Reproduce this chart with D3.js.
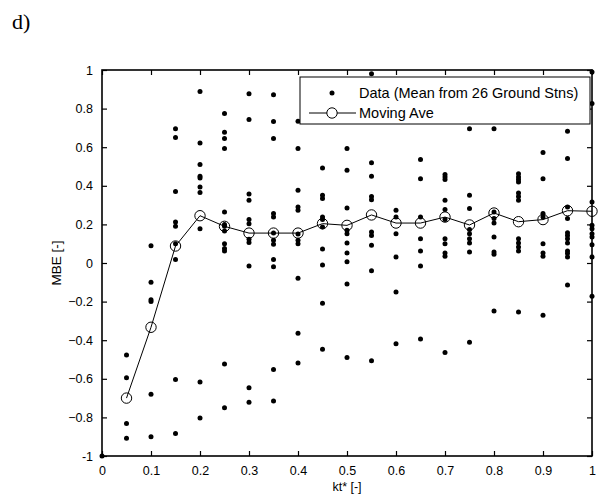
<!DOCTYPE html>
<html>
<head>
<meta charset="utf-8">
<script src="https://cdn.jsdelivr.net/npm/d3@7"></script>
<style>
  body { margin: 0; background: #fff; }
  svg { display: block; font-family: "Liberation Sans", Arial, sans-serif; }
</style>
</head>
<body>
<div id="chart"></div>
<script>
// kt* bins and the MBE of each ground-station point in that bin
const ktBins = [0, 0.05, 0.1, 0.15, 0.2, 0.25, 0.3, 0.35, 0.4, 0.45, 0.5,
  0.55, 0.6, 0.65, 0.7, 0.75, 0.8, 0.85, 0.9, 0.95, 1.0];

const binMBE = [
  [-1.0],
  [-0.477, -0.594, -0.832, -0.908],
  [0.09, -0.10, -0.19, -0.20, -0.68, -0.90],
  [0.696, 0.65, 0.37, 0.212, 0.19, 0.10, 0.018, -0.604, -0.884],
  [0.889, 0.622, 0.51, 0.45, 0.44, 0.394, 0.365, 0.178, -0.617, -0.803],
  [0.774, 0.677, 0.645, 0.593, 0.264, 0.20, 0.19, 0.166, 0.10, 0.075, 0.062, -0.523, -0.75],
  [0.877, 0.743, 0.357, 0.325, 0.225, 0.204, 0.123, 0.106, -0.016, -0.646, -0.722],
  [0.872, 0.733, 0.645, 0.256, 0.238, 0.155, 0.118, 0.097, 0.018, -0.02, -0.552, -0.715],
  [0.734, 0.593, 0.377, 0.29, 0.273, 0.15, 0.118, 0.10, -0.079, -0.364, -0.518],
  [0.492, 0.351, 0.334, 0.238, 0.225, 0.187, 0.072, -0.01, -0.209, -0.447],
  [0.593, 0.48, 0.285, 0.17, 0.152, 0.104, 0.052, 0.007, -0.109, -0.489],
  [0.981, 0.52, 0.45, 0.345, 0.328, 0.161, 0.143, 0.092, -0.04, -0.506],
  [0.273, 0.238, 0.152, 0.031, -0.15, -0.418],
  [0.536, 0.437, 0.238, 0.126, 0.062, -0.016, -0.394],
  [0.458, 0.446, 0.432, 0.325, 0.277, 0.225, 0.126, 0.10, 0.052, 0.035, -0.464],
  [0.696, 0.351, 0.282, 0.173, 0.152, 0.126, 0.104, 0.057, -0.411],
  [0.696, 0.264, 0.23, 0.207, 0.135, 0.057, 0.045, -0.249],
  [0.463, 0.446, 0.432, 0.42, 0.363, 0.345, 0.325, 0.126, 0.104, 0.083, 0.062, -0.254],
  [0.572, 0.437, 0.256, 0.238, 0.10, 0.052, 0.035, -0.271],
  [0.682, 0.541, 0.29, 0.23, 0.157, 0.143, 0.126, 0.104, 0.062, 0.049, 0.031, -0.114],
  [0.99, 0.826, 0.316, 0.195, 0.178, 0.152, 0.135, 0.095, 0.031, -0.172]
];

// moving average, starts at the 0.05 bin
const aveKt = ktBins.slice(1);
const aveMBE = [-0.70, -0.333, 0.088, 0.245, 0.19, 0.155, 0.155, 0.155, 0.204, 0.195,
  0.249, 0.207, 0.207, 0.238, 0.197, 0.259, 0.214, 0.225, 0.271, 0.268];

const xTicks = [0, 0.1, 0.2, 0.3, 0.4, 0.5, 0.6, 0.7, 0.8, 0.9, 1];
const yTicks = [-1, -0.8, -0.6, -0.4, -0.2, 0, 0.2, 0.4, 0.6, 0.8, 1];
const legendLabels = ['Data (Mean from 26 Ground Stns)', 'Moving Ave'];

const width = 601, height = 496;
const margin = { top: 70, right: 9, bottom: 40, left: 102 };
const innerW = width - margin.left - margin.right;
const innerH = height - margin.top - margin.bottom;

const svg = d3.select('#chart').append('svg')
  .attr('width', width)
  .attr('height', height);

const x = d3.scaleLinear().domain([0, 1]).range([margin.left, margin.left + innerW]);
const y = d3.scaleLinear().domain([-1, 1]).range([margin.top + innerH, margin.top]);

const fmt = d => d === 0 ? '0' : (Number.isInteger(d) ? String(d) : d3.format('.1f')(d));

// panel label
svg.append('text')
  .attr('x', 12).attr('y', 29)
  .attr('font-family', '"Liberation Serif", "Times New Roman", serif')
  .attr('font-size', 22)
  .text('d)');

// axes with inward ticks on all four sides
const tickLen = 5;
svg.append('g')
  .attr('transform', `translate(0,${margin.top + innerH})`)
  .call(d3.axisBottom(x).tickValues(xTicks).tickFormat(fmt).tickSizeInner(-tickLen).tickSizeOuter(0).tickPadding(10))
  .call(g => g.select('.domain').remove());
svg.append('g')
  .attr('transform', `translate(0,${margin.top})`)
  .call(d3.axisTop(x).tickValues(xTicks).tickFormat('').tickSizeInner(-tickLen).tickSizeOuter(0))
  .call(g => g.select('.domain').remove());
svg.append('g')
  .attr('transform', `translate(${margin.left},0)`)
  .call(d3.axisLeft(y).tickValues(yTicks).tickFormat(fmt).tickSizeInner(-tickLen).tickSizeOuter(0).tickPadding(9))
  .call(g => g.select('.domain').remove());
svg.append('g')
  .attr('transform', `translate(${margin.left + innerW},0)`)
  .call(d3.axisRight(y).tickValues(yTicks).tickFormat('').tickSizeInner(-tickLen).tickSizeOuter(0))
  .call(g => g.select('.domain').remove());

svg.selectAll('.tick text')
  .attr('font-size', 12.5)
  .attr('font-family', '"Liberation Sans", Arial, sans-serif')
  .attr('fill', '#000');
svg.selectAll('.tick line').attr('stroke', '#000').attr('stroke-width', 1.2);

// box
svg.append('rect')
  .attr('x', margin.left).attr('y', margin.top)
  .attr('width', innerW).attr('height', innerH)
  .attr('fill', 'none')
  .attr('stroke', '#000')
  .attr('stroke-width', 1.6);

// axis titles
svg.append('text')
  .attr('x', margin.left + innerW / 2).attr('y', 491)
  .attr('text-anchor', 'middle')
  .attr('font-size', 12.5)
  .text('kt* [-]');
svg.append('text')
  .attr('transform', `translate(61,${y(0)}) rotate(-90)`)
  .attr('text-anchor', 'middle')
  .attr('font-size', 13.5)
  .text('MBE [-]');

// data points
const points = ktBins.flatMap((k, i) => binMBE[i].map(v => ({ k, v })));
svg.append('g').selectAll('circle')
  .data(points)
  .join('circle')
  .attr('cx', d => x(d.k))
  .attr('cy', d => y(d.v))
  .attr('r', 2.5)
  .attr('fill', '#000');

// moving average
const ave = aveKt.map((k, i) => ({ k, v: aveMBE[i] }));
svg.append('path')
  .datum(ave)
  .attr('d', d3.line().x(d => x(d.k)).y(d => y(d.v)))
  .attr('fill', 'none')
  .attr('stroke', '#000')
  .attr('stroke-width', 1);
svg.append('g').selectAll('circle')
  .data(ave)
  .join('circle')
  .attr('cx', d => x(d.k))
  .attr('cy', d => y(d.v))
  .attr('r', 5.2)
  .attr('fill', 'none')
  .attr('stroke', '#000')
  .attr('stroke-width', 1);

// legend
const lg = svg.append('g').attr('transform', 'translate(300,77)');
lg.append('rect')
  .attr('width', 290).attr('height', 47)
  .attr('fill', '#fff')
  .attr('stroke', '#000')
  .attr('stroke-width', 1);
lg.append('circle').attr('cx', 32).attr('cy', 16).attr('r', 2.5).attr('fill', '#000');
lg.append('line').attr('x1', 9).attr('x2', 56).attr('y1', 36).attr('y2', 36).attr('stroke', '#000');
lg.append('circle').attr('cx', 32).attr('cy', 36).attr('r', 5.2).attr('fill', '#fff').attr('stroke', '#000');
lg.selectAll('text.lab')
  .data(legendLabels)
  .join('text')
  .attr('class', 'lab')
  .attr('x', 59)
  .attr('y', (d, i) => 21 + i * 20)
  .attr('font-size', 14.5)
  .text(d => d);
</script>
</body>
</html>
